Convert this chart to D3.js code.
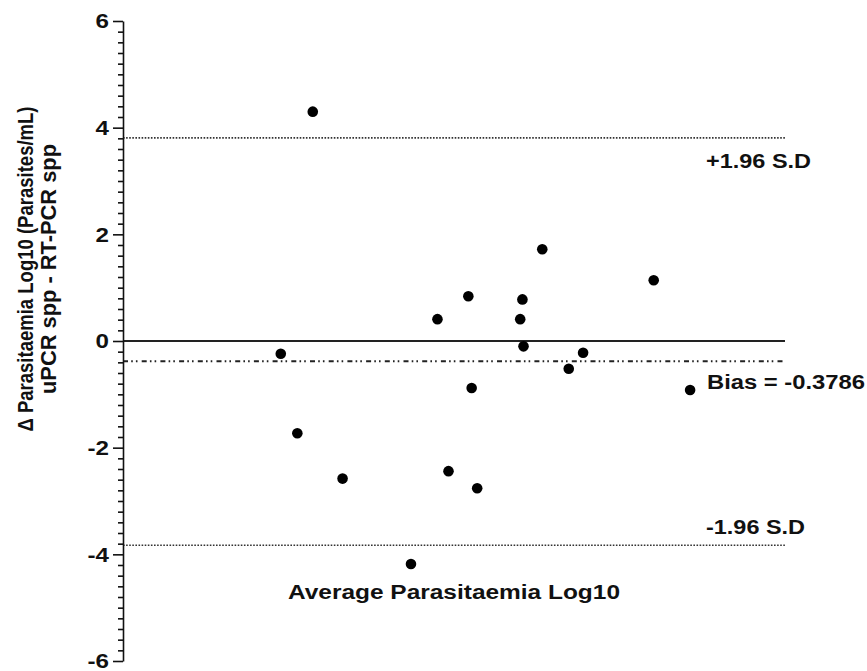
<!DOCTYPE html>
<html>
<head>
<meta charset="utf-8">
<script src="https://cdn.jsdelivr.net/npm/d3@7/dist/d3.min.js"></script>
<style>
  html, body { margin: 0; padding: 0; background: #fff; }
  svg { display: block; font-family: "Liberation Sans", Arial, Helvetica, sans-serif; }
  text { font-weight: bold; fill: #111; }
</style>
</head>
<body>
<svg id="chart" width="867" height="671"></svg>
<script>
// Bland-Altman points: average of the two methods (log10) and their difference
const avgLog = [1.72, 1.43, 1.58, 1.99, 2.61, 2.85, 2.95, 3.13, 3.16, 3.21,
                3.60, 3.62, 3.63, 3.80, 4.04, 4.17, 4.81, 5.14];
const diffLog = [4.30, -0.24, -1.73, -2.58, -4.18, 0.41, -2.44, 0.84, -0.88, -2.76,
                 0.41, 0.78, -0.10, 1.72, -0.52, -0.22, 1.14, -0.92];

const yMajorTicks = [-6, -4, -2, 0, 2, 4, 6];
const bias = -0.3786;
const upperLimit = 3.81;
const lowerLimit = -3.83;

const yTitle = ['\u0394 Parasitaemia Log10 (Parasites/mL)', 'uPCR spp - RT-PCR spp'];
const xTitle = 'Average Parasitaemia Log10';

const svg = d3.select('#chart');

// Plot area (no x axis drawn in the original)
const x = d3.scaleLinear().domain([0, 6]).range([123, 785]);
const y = d3.scaleLinear().domain([-6, 6]).range([661, 21]);

// Stretch a text element horizontally to a given width
function fitText(sel, width) {
    sel.attr('textLength', width).attr('lengthAdjust', 'spacingAndGlyphs');
}

// Reference lines
const lines = svg.append('g');
lines.append('line')
    .attr('x1', x(0)).attr('x2', x(6))
    .attr('y1', y(0)).attr('y2', y(0))
    .attr('stroke', '#222').attr('stroke-width', 1.8);

[upperLimit, lowerLimit].forEach(v => {
    lines.append('line')
        .attr('x1', x(0)).attr('x2', x(6))
        .attr('y1', y(v)).attr('y2', y(v))
        .attr('stroke', '#333').attr('stroke-width', 1.7)
        .attr('stroke-dasharray', '1.6,1.5');
});

lines.append('line')
    .attr('x1', x(0)).attr('x2', x(6))
    .attr('y1', y(bias)).attr('y2', y(bias))
    .attr('stroke', '#222').attr('stroke-width', 2)
    .attr('stroke-dasharray', '5,3.2,1.6,3.1,1.6,4.2');

// Y axis: minor ticks every 0.2, major every 2
const minorTicks = d3.range(-30, 31).map(i => i / 5).filter(v => !yMajorTicks.includes(v));

const minorAxis = svg.append('g')
    .attr('transform', `translate(${x(0)},0)`)
    .call(d3.axisLeft(y).tickValues(minorTicks).tickSize(5).tickSizeOuter(0).tickFormat(''));
minorAxis.select('.domain').remove();

const yAxis = svg.append('g')
    .attr('transform', `translate(${x(0)},0)`)
    .call(d3.axisLeft(y).tickValues(yMajorTicks).tickSize(10).tickSizeOuter(0).tickPadding(4)
        .tickFormat(d => String(d)));

svg.selectAll('.tick line, .domain').attr('stroke', '#111').attr('stroke-width', 1.6);
yAxis.selectAll('text')
    .attr('font-size', 21)
    .attr('font-family', '"Liberation Sans", Arial, sans-serif')
    .attr('font-weight', 'bold')
    .attr('fill', '#111')
    .each(function () {
        fitText(d3.select(this), this.getComputedTextLength() * 1.15);
    });

// Points
svg.append('g')
    .selectAll('circle')
    .data(avgLog.map((a, i) => [a, diffLog[i]]))
    .join('circle')
    .attr('cx', d => x(d[0]))
    .attr('cy', d => y(d[1]))
    .attr('r', 5.3)
    .attr('fill', '#000');

// Line labels
const labels = svg.append('g').attr('font-size', 20);
labels.append('text').attr('x', 706).attr('y', y(upperLimit) + 30).text('+1.96 S.D').call(fitText, 105);
labels.append('text').attr('x', 707).attr('y', y(bias) + 28).text('Bias = -0.3786').call(fitText, 158);
labels.append('text').attr('x', 706).attr('y', y(lowerLimit) - 11).text('-1.96 S.D').call(fitText, 99);

// Axis titles
svg.append('text')
    .attr('font-size', 20)
    .attr('x', 288).attr('y', 599)
    .text(xTitle)
    .call(fitText, 332);

const yt = svg.append('g')
    .attr('transform', 'translate(0,269) rotate(-90) scale(1,1.15)')
    .attr('font-size', 19)
    .attr('text-anchor', 'middle');
yt.append('text').attr('x', 0).attr('y', 29).text(yTitle[0]).call(fitText, 325);
yt.append('text').attr('x', 0).attr('y', 48.5).text(yTitle[1]).call(fitText, 250);
</script>
</body>
</html>
